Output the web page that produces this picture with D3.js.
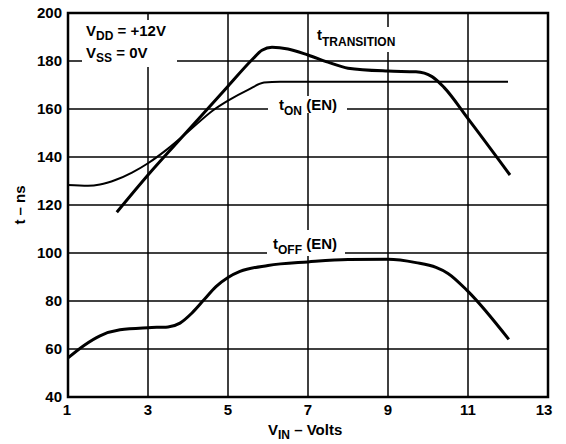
<!DOCTYPE html>
<html>
<head>
<meta charset="utf-8">
<script src="https://cdn.jsdelivr.net/npm/d3@7"></script>
<style>
  body { margin: 0; background: #fff; }
  svg text { font-family: "Liberation Sans", Arial, sans-serif; font-weight: bold; fill: #000; }
</style>
</head>
<body>
<svg id="viz" width="566" height="444"></svg>
<script>
var xTicks = [1, 3, 5, 7, 9, 11, 13];
var yTicks = [40, 60, 80, 100, 120, 140, 160, 180, 200];

// t TRANSITION
var transV = [2.22, 3, 4, 5, 5.6, 5.85, 6.1, 6.5, 7, 7.5, 8, 9, 9.7, 10.1, 10.4, 11, 12.05];
var transT = [117, 132.5, 151, 169.5, 180.5, 184.5, 185.7, 185, 182.5, 179.5, 177, 175.8, 175.5, 173.5, 169, 156, 132.5];

// t ON (EN)
var onV = [1, 1.5, 1.8, 2.2, 2.6, 3, 3.5, 4, 4.63, 5, 5.5, 5.9, 6.3, 12];
var onT = [128.3, 128, 128.5, 130.5, 133.5, 137.4, 143.5, 150.5, 159.5, 163.5, 168, 171, 171.4, 171.4];

// t OFF (EN)
var offV = [1, 1.4, 1.8, 2.3, 3, 3.5, 3.8, 4.1, 4.4, 4.7, 5, 5.3, 6, 7, 8, 9, 9.7, 10.2, 10.5, 11, 12.02];
var offT = [56.3, 61.5, 65.5, 68, 68.9, 69.2, 70.8, 75, 80.5, 86, 89.8, 92.3, 94.8, 96.3, 97.3, 97.4, 96, 94, 91.5, 84, 64];

function pairs(xs, ys) {
    return xs.map(function(v, i) { return [v, ys[i]]; });
}

var svg = d3.select("#viz");
var x = d3.scaleLinear().domain([1, 13]).range([68, 548]);
var y = d3.scaleLinear().domain([40, 200]).range([397, 13]);

// grid
svg.selectAll("line.vgrid")
    .data(xTicks.slice(1, -1))
    .enter().append("line")
    .attr("x1", function(d) { return x(d); })
    .attr("x2", function(d) { return x(d); })
    .attr("y1", y(200)).attr("y2", y(40))
    .style("stroke", "#000").style("stroke-width", 1.5);

svg.selectAll("line.hgrid")
    .data(yTicks.slice(1, -1))
    .enter().append("line")
    .attr("y1", function(d) { return y(d); })
    .attr("y2", function(d) { return y(d); })
    .attr("x1", x(1)).attr("x2", x(13))
    .style("stroke", "#000").style("stroke-width", 1.5);

// white gaps behind labels
var gaps = [[82, 20, 95, 47], [312, 27, 93, 25], [268, 96, 79, 17], [267, 230, 78, 26]];
svg.selectAll("rect.gap")
    .data(gaps)
    .enter().append("rect")
    .attr("x", function(d) { return d[0]; })
    .attr("y", function(d) { return d[1]; })
    .attr("width", function(d) { return d[2]; })
    .attr("height", function(d) { return d[3]; })
    .style("fill", "#fff");

// frame
svg.append("rect")
    .attr("x", x(1)).attr("y", y(200))
    .attr("width", x(13) - x(1)).attr("height", y(40) - y(200))
    .style("fill", "none").style("stroke", "#000").style("stroke-width", 2.5);

// curves
var line = d3.line()
    .x(function(d) { return x(d[0]); })
    .y(function(d) { return y(d[1]); })
    .curve(d3.curveMonotoneX);

var series = [
    { pts: pairs(onV, onT), w: 2 },
    { pts: pairs(transV, transT), w: 3 },
    { pts: pairs(offV, offT), w: 3 }
];
svg.selectAll("path.curve")
    .data(series)
    .enter().append("path")
    .attr("d", function(d) { return line(d.pts); })
    .style("fill", "none")
    .style("stroke", "#000")
    .style("stroke-width", function(d) { return d.w; });

// tick labels
svg.selectAll("text.ytick")
    .data(yTicks)
    .enter().append("text")
    .attr("x", 62)
    .attr("y", function(d) { return y(d); })
    .attr("dy", "0.36em")
    .attr("text-anchor", "end")
    .style("font-size", "15px")
    .text(function(d) { return d; });

svg.selectAll("text.xtick")
    .data(xTicks)
    .enter().append("text")
    .attr("x", function(d) { return x(d) - (d == 1 ? 1 : d == 13 ? 4 : 0); })
    .attr("y", 415)
    .attr("text-anchor", "middle")
    .style("font-size", "15px")
    .text(function(d) { return d; });

// labels with subscripts
function subLabel(px, py, main, sub, rest, size, subSize, drop) {
    var t = svg.append("text").attr("x", px).attr("y", py).style("font-size", size + "px");
    t.append("tspan").text(main);
    t.append("tspan").attr("dy", drop).style("font-size", subSize + "px").text(sub);
    if (rest) t.append("tspan").attr("dy", -drop).text(rest);
    return t;
}

subLabel(86, 36, "V", "DD", " = +12V", 15, 12, 4);
subLabel(86, 58, "V", "SS", " = 0V", 15, 12, 4);
subLabel(317, 40, "t", "TRANSITION", "", 15, 12, 6);
subLabel(279, 110, "t", "ON", " (EN)", 15, 12, 5);
subLabel(273, 249, "t", "OFF", " (EN)", 15, 12, 5);

// axis titles
subLabel(268, 435, "V", "IN", " – Volts", 15, 12, 4);

svg.append("text")
    .attr("transform", "translate(25," + y(120) + ") rotate(-90)")
    .attr("text-anchor", "middle")
    .style("font-size", "15px")
    .text("t – ns");
</script>
</body>
</html>
